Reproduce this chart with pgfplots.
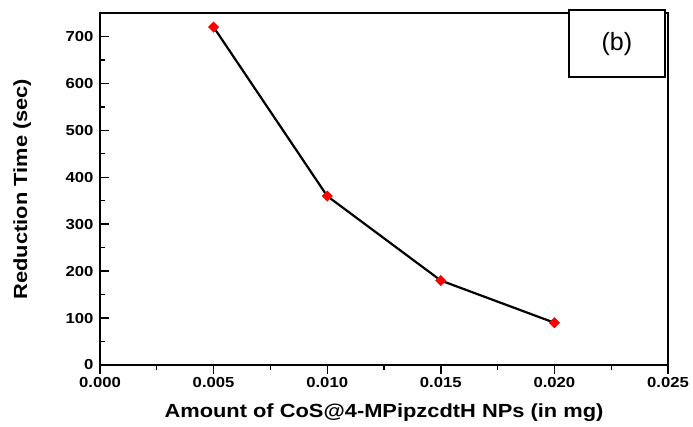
\documentclass[border=0pt]{standalone}
\usepackage{fontspec}
\setmainfont{Liberation Sans}
\newfontfamily\widefont[FakeStretch=1.15]{Liberation Sans}
\usepackage{pgfplots}
\pgfplotsset{compat=1.18}
\begin{document}
\begin{tikzpicture}
\begin{axis}[
  at={(0,0)}, anchor=south west,
  scale only axis, width=568pt, height=352pt,
  xmin=0, xmax=0.025, ymin=0, ymax=750,
  xtick={0,0.005,0.010,0.015,0.020,0.025},
  ytick={0,100,200,300,400,500,600,700},
  minor x tick num=1, minor y tick num=1,
  tick pos=left,
  xtick align=outside, ytick align=inside,
  major tick length=9pt, minor tick length=5pt,
  every tick/.style={black, line width=1.4pt},
  axis line style={line width=1.6pt},
  /pgf/number format/assume math mode=true,
  xticklabel style={/pgf/number format/fixed, /pgf/number format/fixed zerofill, /pgf/number format/precision=3, font=\widefont\fontsize{14.5}{17}\selectfont\bfseries},
  yticklabel style={font=\widefont\fontsize{14.5}{17}\selectfont\bfseries, xshift=-3pt},
  scaled x ticks=false,
  xlabel={Amount of CoS@4-MPipzcdtH NPs (in mg)},
  ylabel={Reduction Time (sec)},
  xlabel style={font=\widefont\fontsize{19}{22}\selectfont\bfseries, at={(axis description cs:0.5,-0.136)}, anchor=center},
  ylabel style={font=\widefont\fontsize{19}{22}\selectfont\bfseries, at={(axis description cs:-0.137,0.5)}, anchor=center},
  clip=false,
]
\addplot[black, line width=2.2pt, mark=square*, mark size=3.8pt, mark options={rotate=45, fill=red, draw=red, line width=0.1pt}]
  coordinates {(0.005,720) (0.010,360) (0.015,180) (0.020,90)};
\draw[line width=2.4pt] (axis description cs:0.8257,0.818) -- (axis description cs:0.9947,0.818) -- (axis description cs:0.9947,1.0085);
\draw[line width=1.2pt, fill=white] (axis description cs:0.8257,0.818) rectangle (axis description cs:0.9947,1.0085);
\node[font=\fontsize{25}{29}\selectfont] at (axis description cs:0.910,0.913) {(b)};
\end{axis}
\path (-100pt,-62pt) rectangle (593pt,365pt);
\end{tikzpicture}
\end{document}
